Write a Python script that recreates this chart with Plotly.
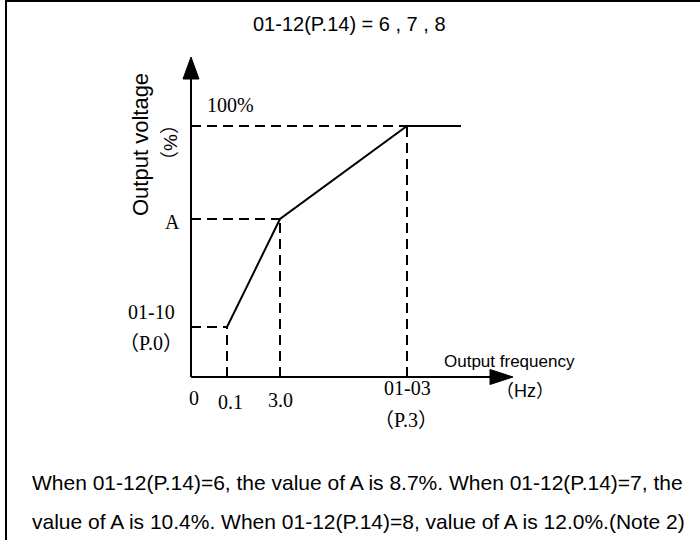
import plotly.graph_objects as go

# ---- schematic data (positions along the sketch axes) ----
freq_tick_pos = [0, 36, 89, 216]
freq_tick_labels = ["0", "0.1", "3.0", "01-03"]
volt_levels = [50, 158, 251]
volt_labels = ["01-10", "A", "100%"]
curve_x = [36, 89, 216, 270]
curve_y = [50, 158, 251, 251]
title_text = "01-12(P.14) = 6 , 7 , 8"
note_lines = [
    "When 01-12(P.14)=6, the value of A is 8.7%. When 01-12(P.14)=7, the",
    "value of A is 10.4%. When 01-12(P.14)=8, value of A is 12.0%.(Note 2)",
]

W, H = 700, 540
X0, Y0 = 191, 377  # pixel location of origin
x_tip, y_tip = 322, 320
SERIF = "Liberation Serif, Noto Sans CJK SC, serif"
SANS = "Liberation Sans, Arial, Noto Sans CJK SC, sans-serif"


def paren(inner):
    lp = '<span style="font-family:Noto Sans CJK SC">（</span>'
    rp = '<span style="font-family:Noto Sans CJK SC">）</span>'
    return lp + inner + rp


fig = go.Figure()

# axes lines
fig.add_trace(go.Scatter(x=[0, x_tip - 22], y=[0, 0], mode="lines",
                         line=dict(color="black", width=2), hoverinfo="skip"))
fig.add_trace(go.Scatter(x=[0, 0], y=[0, y_tip - 22], mode="lines",
                         line=dict(color="black", width=2), hoverinfo="skip"))
# arrow heads
fig.add_trace(go.Scatter(x=[x_tip, x_tip - 23, x_tip - 23, x_tip],
                         y=[0, 7.5, -7.5, 0], mode="lines", fill="toself",
                         fillcolor="black", line=dict(color="black", width=1),
                         hoverinfo="skip"))
fig.add_trace(go.Scatter(x=[0, -8, 8, 0],
                         y=[y_tip, y_tip - 22, y_tip - 22, y_tip], mode="lines",
                         fill="toself", fillcolor="black",
                         line=dict(color="black", width=1), hoverinfo="skip"))

# dashed guides
dash = "10px,6px"
for cx, cy in zip(curve_x[:3], curve_y[:3]):
    fig.add_trace(go.Scatter(x=[0, cx], y=[cy, cy], mode="lines",
                             line=dict(color="black", width=2, dash=dash),
                             hoverinfo="skip"))
    fig.add_trace(go.Scatter(x=[cx, cx], y=[0, cy], mode="lines",
                             line=dict(color="black", width=2, dash=dash),
                             hoverinfo="skip"))

# V/F curve
fig.add_trace(go.Scatter(x=curve_x, y=curve_y, mode="lines",
                         line=dict(color="black", width=2), hoverinfo="skip"))

ann = []


def label(x, y, text, font, size, **kw):
    d = dict(x=x, y=y, xref="x", yref="y", text=text, showarrow=False,
             font=dict(family=font, size=size, color="black"),
             xanchor="center", yanchor="middle")
    d.update(kw)
    ann.append(d)


# frequency tick labels
label(freq_tick_pos[0] + 3, -21, freq_tick_labels[0], SERIF, 20)
label(freq_tick_pos[1] + 3, -25, freq_tick_labels[1], SERIF, 20)
label(freq_tick_pos[2], -23, freq_tick_labels[2], SERIF, 20)
label(freq_tick_pos[3], -11, freq_tick_labels[3], SERIF, 20)
label(freq_tick_pos[3] - 1, -41, paren("P.3"), SERIF, 20)

# voltage labels
label(-40, volt_levels[0] + 15, volt_labels[0], SERIF, 20)
label(-40, volt_levels[0] - 14, paren("P.0"), SERIF, 20)
label(-19, volt_levels[1] - 3, volt_labels[1], SERIF, 20)
label(39, volt_levels[2] + 21, volt_labels[2], SERIF, 20)

# axis titles
label(251, 16, "Output frequency", SANS, 17, xanchor="left")
label(334, -12, paren("Hz"), SANS, 18)
label(-51, 232, "Output voltage", SANS, 22, textangle=-90)
label(-23, 234, paren("%"), SANS, 19, textangle=-90)

# title and note in paper coords


def pp(px, py):
    return px / W, 1 - py / H


tx, ty = pp(349, 24)
ann.append(dict(x=tx, y=ty, xref="paper", yref="paper", text=title_text,
                showarrow=False, font=dict(family=SANS, size=20, color="black"),
                xanchor="center", yanchor="middle"))
for line, py in zip(note_lines, [482, 521]):
    lx, ly = pp(30, py)
    ann.append(dict(x=lx, y=ly, xref="paper", yref="paper", text=line,
                    showarrow=False, font=dict(family=SANS, size=21, color="black"),
                    xanchor="left", yanchor="middle"))

shapes = [
    dict(type="line", xref="paper", yref="paper", x0=5 / W, x1=1, y0=1 - 1 / H,
         y1=1 - 1 / H, line=dict(color="black", width=2)),
    dict(type="line", xref="paper", yref="paper", x0=6 / W, x1=6 / W, y0=0,
         y1=1, line=dict(color="black", width=2)),
]

fig.update_layout(
    width=W, height=H, margin=dict(l=0, r=0, t=0, b=0),
    paper_bgcolor="white", plot_bgcolor="white", showlegend=False,
    hovermode=False,
    xaxis=dict(range=[-X0, W - X0], visible=False, fixedrange=True),
    yaxis=dict(range=[Y0 - H, Y0], visible=False, fixedrange=True),
    annotations=ann, shapes=shapes,
)

fig.write_html("out.html", config={"displayModeBar": False},
               post_script="document.body.style.margin='0px';")
